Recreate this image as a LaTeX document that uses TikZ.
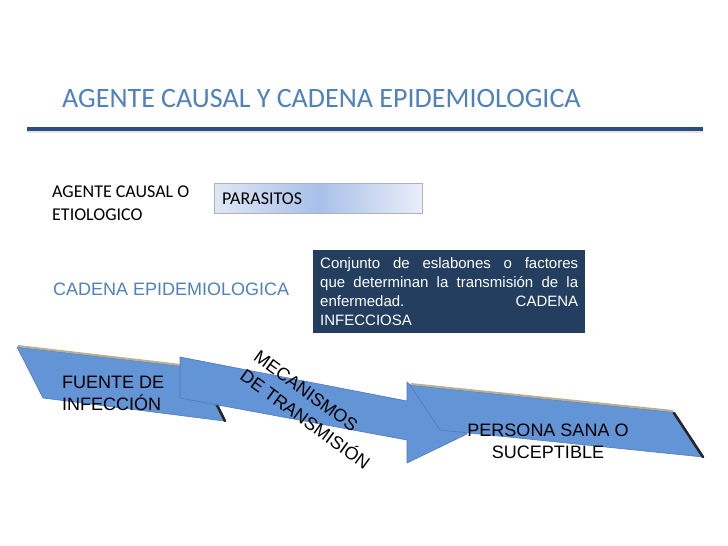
\documentclass[tikz,border=0pt]{standalone}
\usepackage{fontspec}
\setmainfont{Carlito}
\newfontfamily\arialfont{Liberation Sans}
\usetikzlibrary{positioning}

\definecolor{tituloazul}{RGB}{79,129,189}
\definecolor{lineaazul}{RGB}{44,77,126}
\definecolor{cajaazul}{RGB}{36,62,96}
\definecolor{flechaazul}{RGB}{99,148,214}
\definecolor{bordeazul}{RGB}{78,122,186}
\definecolor{sombraclara}{RGB}{185,176,148}
\definecolor{gradclaro}{RGB}{224,231,245}
\definecolor{gradmedio}{RGB}{168,192,233}

\tikzset{
    eslabon/.style={fill=flechaazul, draw=bordeazul, line width=0.6pt},
    bisel claro/.style={draw=sombraclara, line width=2pt},
    bisel oscuro/.style={draw=black!85, line width=2.6pt, line cap=round},
    texto negro/.style={font=\arialfont\fontsize{18}{22}\selectfont, align=center, inner sep=0pt}
}

\begin{document}
\begin{tikzpicture}[x=1pt, y=-1pt]

    % Fix the page to the reference size
    \useasboundingbox (0,0) rectangle (728,546);

    % 1. Title and rule under it
    \node[anchor=base west, inner sep=0pt, text=tituloazul, font=\fontsize{28}{32}\selectfont]
        (titulo) at (62,107) {AGENTE CAUSAL Y CADENA EPIDEMIOLOGICA};
    \draw[black!10, line width=2pt] (27,132) -- (703,132);
    \draw[lineaazul, line width=4pt] (27,129) coordinate (reglaA) -- (703,129) coordinate (reglaB);

    % 2. Agente causal row
    \node[anchor=base west, inner sep=0pt, align=left, font=\fontsize{18}{23}\selectfont]
        (agente) at (52,220) {AGENTE CAUSAL O\\ETIOLOGICO};
    \shade[left color=gradclaro, right color=gradclaro!70!white, middle color=gradmedio]
        (214,183) rectangle (422,213);
    \draw[black!30, line width=0.6pt] (214,183) rectangle (422,213);
    \node[anchor=base west, inner sep=0pt, font=\fontsize{18}{21}\selectfont]
        (parasitos) at (222,204) {PARASITOS};

    % 3. Cadena epidemiologica row
    \node[anchor=base west, inner sep=0pt, text=tituloazul, font=\arialfont\fontsize{18}{21}\selectfont]
        (cadena) at (53,295) {CADENA EPIDEMIOLOGICA};
    \node[anchor=north west, fill=cajaazul, text=white, inner xsep=7pt, inner ysep=0pt,
          minimum width=272pt, minimum height=83pt, align=left,
          font=\arialfont\fontsize{15}{19}\selectfont]
        (definicion) at (313,250) {%
        \makebox[258pt][s]{Conjunto de eslabones o factores}\\
        \makebox[258pt][s]{que determinan la transmisi\'on de la}\\
        \makebox[258pt][s]{enfermedad. CADENA}\\
        INFECCIOSA};

    % 4. Links of the chain (back to front)
    \path[eslabon] (17,347) -- (198,368) -- (224,421) -- (43,398) -- cycle;
    \draw[bisel claro] (18,346) -- (198,367);
    \draw[bisel oscuro] (199,369) -- (225,421);

    \path[eslabon] (180,357) -- (407,401) -- (407,382) -- (467,434)
        -- (407,463) -- (407,440) -- (180,398) -- cycle;

    \path[eslabon] (410,385) -- (673,412) -- (703,457) -- (440,430) -- cycle;
    \draw[bisel claro] (411,384) -- (673,411);
    \draw[bisel oscuro] (674,413) -- (703,457);

    % 5. Texts on the chain
    \node[texto negro, align=left, anchor=north west] (fuente) at (62,376) {FUENTE DE\\INFECCI\'ON};
    \node[texto negro, align=left, rotate=-36, font=\arialfont\fontsize{18}{23.5}\selectfont]
        (mecanismos) at (312,410) {MECANISMOS\\DE TRANSMISI\'ON};
    \node[texto negro] (persona) at (548,441) {PERSONA SANA O\\SUCEPTIBLE};

\end{tikzpicture}
\end{document}
